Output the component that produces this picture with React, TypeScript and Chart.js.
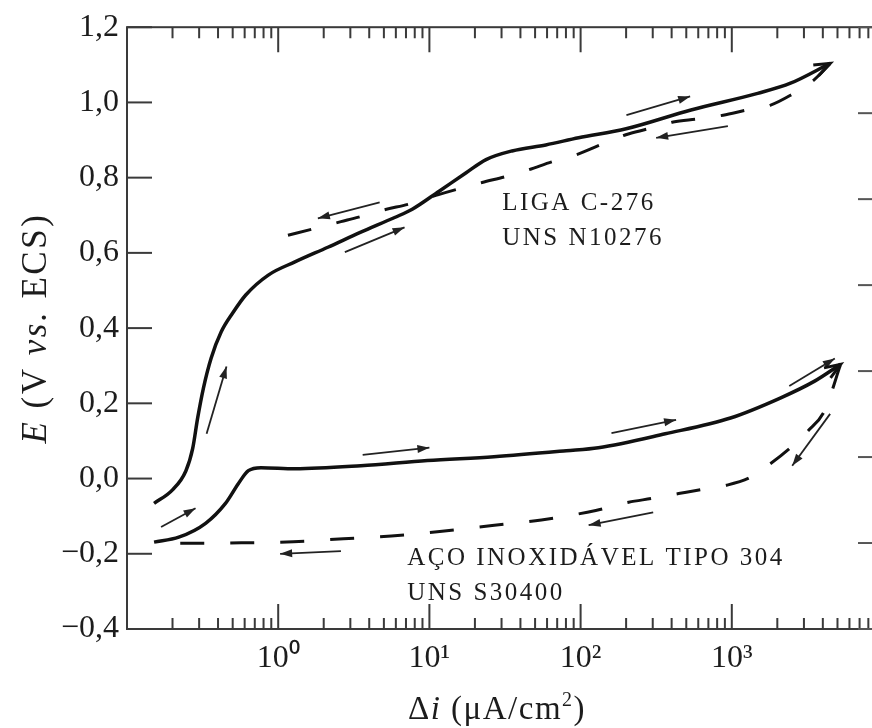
import React, { useEffect, useRef } from 'react';
import { Chart, registerables } from 'chart.js';
Chart.register(...registerables);

const FONT = '"Liberation Serif", "Times New Roman", serif';
const INK = '#1c1c1c';

// Axis ticks
const xMin = 0.1;
const xMax = 10000;
const xTickValues = [1, 10, 100, 1000];
const xTickLabels = ['10\u2070', '10\u00B9', '10\u00B2', '10\u00B3'];
const yTickValues = [-0.4, -0.2, 0, 0.2, 0.4, 0.6, 0.8, 1.0, 1.2];
const yTickLabels = ['\u22120,4', '\u22120,2', '0,0', '0,2', '0,4', '0,6', '0,8', '1,0', '1,2'];
const rightTickValues = [0, 1, 2, 3, 4, 5, 6, 7];

// Liga C-276 (UNS N10276): forward scan (solid)
const c276FwdX = [0.151, 0.2, 0.245, 0.272, 0.293, 0.32, 0.36, 0.42, 0.5, 0.61, 0.86, 1.29, 2.13, 3.52, 5.89, 7.7, 11.6, 17.5, 23.7, 35.2, 58.9, 97, 200, 537, 1483, 2445, 4480];
const c276FwdY = [-0.066, -0.03, 0.02, 0.08, 0.16, 0.24, 0.32, 0.39, 0.44, 0.488, 0.541, 0.576, 0.615, 0.655, 0.694, 0.716, 0.764, 0.813, 0.848, 0.871, 0.887, 0.906, 0.93, 0.98, 1.024, 1.051, 1.104];
// Liga C-276: reverse scan (dashed)
const c276RevX = [1.16, 1.67, 2.6, 3.4, 5.2, 7.2, 11.5, 22.3, 32, 45.5, 64.4, 94, 131, 199, 274, 410, 597, 876, 1230, 1807, 2443, 3500, 4480];
const c276RevY = [0.647, 0.663, 0.683, 0.695, 0.716, 0.729, 0.755, 0.787, 0.803, 0.821, 0.842, 0.861, 0.885, 0.914, 0.929, 0.948, 0.956, 0.966, 0.979, 0.993, 1.019, 1.06, 1.104];

// Aço inoxidável tipo 304 (UNS S30400): forward scan (solid)
const s304FwdX = [0.151, 0.22, 0.331, 0.448, 0.546, 0.635, 0.77, 1.29, 3.52, 9.7, 26.7, 80.5, 131, 363, 980, 2090, 3530, 5250];
const s304FwdY = [-0.169, -0.156, -0.119, -0.066, -0.013, 0.021, 0.029, 0.026, 0.034, 0.048, 0.058, 0.074, 0.082, 0.119, 0.161, 0.214, 0.259, 0.304];
// Aço 304: reverse scan (dashed)
const s304RevX = [0.225, 0.33, 0.57, 1.26, 2.7, 5.6, 11.7, 26, 55, 126, 208, 295, 445, 630, 920, 1323, 1807, 2443, 3200, 4100, 5250];
const s304RevY = [-0.172, -0.172, -0.171, -0.168, -0.16, -0.153, -0.141, -0.125, -0.11, -0.085, -0.063, -0.053, -0.04, -0.029, -0.018, 0.003, 0.04, 0.082, 0.127, 0.18, 0.304];

// Scan-direction arrows (data coordinates)
const arrowFromX = [0.336, 2.76, 4.69, 201, 942, 0.168, 3.62, 160, 2400, 4470, 302, 2.6];
const arrowFromY = [0.119, 0.602, 0.734, 0.966, 0.937, -0.129, 0.063, 0.121, 0.246, 0.172, -0.09, -0.193];
const arrowToX = [0.455, 6.85, 1.83, 530, 316, 0.284, 10, 428, 4800, 2510, 113, 1.03];
const arrowToY = [0.298, 0.668, 0.692, 1.016, 0.906, -0.079, 0.082, 0.156, 0.319, 0.034, -0.124, -0.2];

// Curve labels (anchored in data coordinates)
const labelTexts = ['LIGA C-276', 'UNS N10276', 'A\u00C7O INOXID\u00C1VEL TIPO 304', 'UNS S30400'];
const labelX = [30.3, 30.3, 7.13, 7.13];
const labelY = [0.714, 0.622, -0.23, -0.323];

const pts = (xs: number[], ys: number[]) => xs.map((x, i) => ({ x, y: ys[i] }));

type Seg = { t: string; it?: boolean; sup?: boolean };
function drawRich(ctx: CanvasRenderingContext2D, segs: Seg[], cx: number, cy: number, size: number, spacing: number) {
  const fontOf = (s: Seg) => `${s.it ? 'italic ' : ''}${s.sup ? Math.round(size * 0.62) : size}px ${FONT}`;
  (ctx as any).letterSpacing = `${spacing}px`;
  let total = 0;
  const widths = segs.map((s) => {
    ctx.font = fontOf(s);
    const w = ctx.measureText(s.t).width;
    total += w;
    return w;
  });
  let x = cx - total / 2;
  ctx.textAlign = 'left';
  ctx.textBaseline = 'alphabetic';
  segs.forEach((s, i) => {
    ctx.font = fontOf(s);
    ctx.fillText(s.t, x, s.sup ? cy - size * 0.38 : cy);
    x += widths[i];
  });
  (ctx as any).letterSpacing = '0px';
}

function arrowHead(ctx: CanvasRenderingContext2D, x0: number, y0: number, x1: number, y1: number, len: number, half: number, filled: boolean) {
  const a = Math.atan2(y1 - y0, x1 - x0);
  const bx = x1 - len * Math.cos(a);
  const by = y1 - len * Math.sin(a);
  const px = -Math.sin(a) * half;
  const py = Math.cos(a) * half;
  ctx.beginPath();
  ctx.moveTo(bx + px, by + py);
  ctx.lineTo(x1, y1);
  ctx.lineTo(bx - px, by - py);
  if (filled) {
    ctx.closePath();
    ctx.fill();
  } else {
    ctx.stroke();
  }
}

const decorPlugin = {
  id: 'decor',
  afterDraw(chart: any) {
    const { ctx, chartArea: a, scales } = chart;
    const xs = scales.x;
    const ys = scales.y;
    const yr = scales.y2;
    ctx.save();
    // frame
    ctx.strokeStyle = '#3a3a3a';
    ctx.lineWidth = 2;
    ctx.strokeRect(a.left, a.top, a.right - a.left, a.bottom - a.top);
    // log x ticks, inward, top and bottom
    const dMin = Math.round(Math.log10(xMin));
    const dMax = Math.round(Math.log10(xMax));
    for (let d = dMin; d <= dMax; d++) {
      for (let m = 1; m <= 9; m++) {
        const v = m * Math.pow(10, d);
        if (v < xMin || v > xMax) continue;
        const px = xs.getPixelForValue(v);
        const len = m === 1 ? 25 : 11;
        ctx.beginPath();
        ctx.moveTo(px, a.bottom);
        ctx.lineTo(px, a.bottom - len);
        ctx.moveTo(px, a.top);
        ctx.lineTo(px, a.top + len);
        ctx.stroke();
      }
    }
    // left y ticks
    yTickValues.forEach((v) => {
      const py = ys.getPixelForValue(v);
      ctx.beginPath();
      ctx.moveTo(a.left, py);
      ctx.lineTo(a.left + 25, py);
      ctx.stroke();
    });
    // right ticks
    ctx.strokeStyle = '#555';
    rightTickValues.forEach((v) => {
      const py = yr.getPixelForValue(v);
      ctx.beginPath();
      ctx.moveTo(a.right, py);
      ctx.lineTo(a.right - 25, py);
      ctx.stroke();
    });

    // scan-direction arrows
    ctx.strokeStyle = '#222';
    ctx.fillStyle = '#222';
    ctx.lineWidth = 1.8;
    arrowFromX.forEach((fx, i) => {
      const x0 = xs.getPixelForValue(fx);
      const y0 = ys.getPixelForValue(arrowFromY[i]);
      const x1 = xs.getPixelForValue(arrowToX[i]);
      const y1 = ys.getPixelForValue(arrowToY[i]);
      ctx.beginPath();
      ctx.moveTo(x0, y0);
      ctx.lineTo(x1, y1);
      ctx.stroke();
      arrowHead(ctx, x0, y0, x1, y1, 12, 4, true);
    });

    // arrowheads at the ends of the forward (solid) curves
    ctx.strokeStyle = '#111';
    ctx.lineWidth = 3;
    [[c276FwdX, c276FwdY], [s304FwdX, s304FwdY]].forEach(([fx, fy]) => {
      const n = fx.length;
      const x0 = xs.getPixelForValue(fx[n - 2]);
      const y0 = ys.getPixelForValue(fy[n - 2]);
      const x1 = xs.getPixelForValue(fx[n - 1]);
      const y1 = ys.getPixelForValue(fy[n - 1]);
      arrowHead(ctx, x0, y0, x1, y1, 16, 6, false);
    });

    // curve labels
    ctx.fillStyle = INK;
    ctx.font = `25px ${FONT}`;
    ctx.textAlign = 'left';
    ctx.textBaseline = 'alphabetic';
    (ctx as any).letterSpacing = '2.5px';
    labelTexts.forEach((t, i) => {
      ctx.fillText(t, xs.getPixelForValue(labelX[i]), ys.getPixelForValue(labelY[i]));
    });
    (ctx as any).letterSpacing = '0px';

    // axis titles
    const cxMid = (a.left + a.right) / 2 - 8;
    drawRich(ctx, [{ t: '\u0394' }, { t: 'i', it: true }, { t: ' (\u03BCA/cm' }, { t: '2', sup: true }, { t: ')' }], cxMid, 719, 33, 1.5);
    ctx.save();
    ctx.translate(46, (a.top + a.bottom) / 2);
    ctx.rotate(-Math.PI / 2);
    drawRich(ctx, [{ t: 'E', it: true }, { t: ' (V ' }, { t: 'vs.', it: true }, { t: ' ECS)' }], 0, 0, 35, 2.5);
    ctx.restore();

    ctx.restore();
  },
};

export default function App() {
  const ref = useRef<HTMLCanvasElement | null>(null);
  useEffect(() => {
    if (!ref.current) return;
    const solid = { borderColor: '#111', borderWidth: 3.5, pointRadius: 0, fill: false, cubicInterpolationMode: 'monotone' as const };
    const dashed = { ...solid, borderWidth: 3, borderDash: [24, 26] };
    const chart = new Chart(ref.current, {
      type: 'line',
      data: {
        datasets: [
          { label: 'C-276 ida', data: pts(c276FwdX, c276FwdY), ...solid },
          { label: 'C-276 volta', data: pts(c276RevX, c276RevY), ...dashed },
          { label: '304 ida', data: pts(s304FwdX, s304FwdY), ...solid },
          { label: '304 volta', data: pts(s304RevX, s304RevY), ...dashed },
        ],
      },
      options: {
        responsive: false,
        animation: false,
        devicePixelRatio: 1,
        layout: { padding: { left: 0, right: 17, top: 24, bottom: 0 } },
        plugins: { legend: { display: false }, tooltip: { enabled: false } },
        scales: {
          x: {
            type: 'logarithmic',
            min: xMin,
            max: xMax,
            grid: { display: false, drawTicks: false },
            border: { display: false },
            afterBuildTicks: (s: any) => {
              s.ticks = xTickValues.map((v) => ({ value: v }));
            },
            afterFit: (s: any) => {
              s.height = 99;
            },
            ticks: {
              autoSkip: false,
              maxRotation: 0,
              padding: 10,
              color: INK,
              font: { family: FONT, size: 32 },
              callback: (v: any) => {
                const i = xTickValues.indexOf(Number(v));
                return i >= 0 ? xTickLabels[i] : '';
              },
            },
          },
          y: {
            type: 'linear',
            min: -0.4,
            max: 1.2,
            grid: { display: false, drawTicks: false },
            border: { display: false },
            afterBuildTicks: (s: any) => {
              s.ticks = yTickValues.map((v) => ({ value: v }));
            },
            afterFit: (s: any) => {
              s.width = 127;
            },
            ticks: {
              padding: 8,
              color: INK,
              font: { family: FONT, size: 32 },
              callback: (v: any) => {
                const i = yTickValues.findIndex((t) => Math.abs(t - Number(v)) < 1e-6);
                return i >= 0 ? yTickLabels[i] : '';
              },
            },
          },
          y2: {
            type: 'linear',
            display: false,
            position: 'right',
            min: 0,
            max: 7,
          },
        },
      },
      plugins: [decorPlugin],
    });
    return () => chart.destroy();
  }, []);
  return (
    <div style={{ position: 'fixed', left: 0, top: 0, width: 872, height: 728, overflow: 'hidden', background: '#fff' }}>
      <canvas ref={ref} width={900} height={728} style={{ display: 'block', width: 900, height: 728 }} />
    </div>
  );
}
